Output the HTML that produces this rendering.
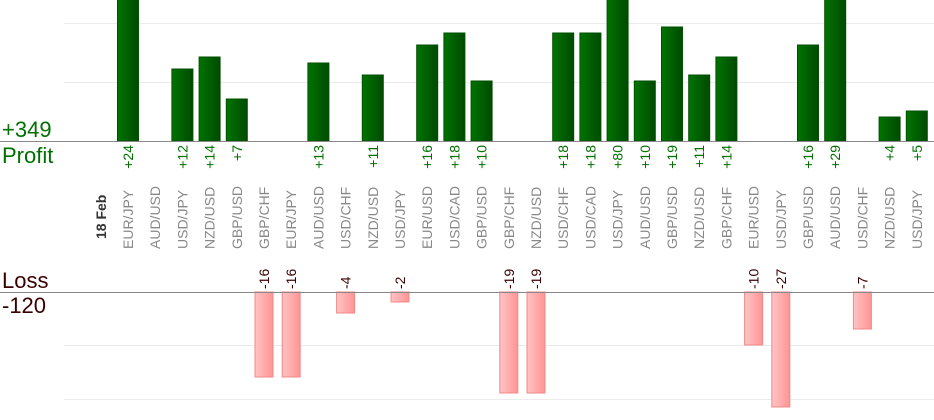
<!DOCTYPE html>
<html><head><meta charset="utf-8"><style>
body{margin:0;background:#fff;width:934px;height:420px;overflow:hidden}
svg{display:block;font-family:"Liberation Sans",sans-serif}
.v{fill:#007000;font-size:14px;text-anchor:end}
.p{fill:#888;font-size:14px}
.l{fill:#3a0000;font-size:14px}
.g{fill:url(#gg);stroke:#005000;stroke-width:1}
.r{fill:url(#rg);stroke:#f08888;stroke-width:1}
</style></head><body>
<svg width="934" height="420" viewBox="0 0 934 420">
<defs>
<linearGradient id="gg" x1="0" x2="1" y1="0" y2="0"><stop offset="0" stop-color="#007400"/><stop offset="1" stop-color="#004a00"/></linearGradient>
<linearGradient id="rg" x1="0" x2="1" y1="0" y2="0"><stop offset="0" stop-color="#ffc4c4"/><stop offset="1" stop-color="#ff9494"/></linearGradient>
</defs>
<g stroke="#ececec" stroke-width="1">
<line x1="64" x2="934" y1="23.5" y2="23.5"/><line x1="64" x2="934" y1="82.5" y2="82.5"/>
<line x1="64" x2="934" y1="345.5" y2="345.5"/><line x1="64" x2="934" y1="399.5" y2="399.5"/>
</g>
<g>
<rect class="g" x="117.5" y="-1" width="21" height="142"/>
<rect class="g" x="171.9" y="69" width="21" height="72"/>
<rect class="g" x="199.1" y="57" width="21" height="84"/>
<rect class="g" x="226.3" y="99" width="21" height="42"/>
<rect class="g" x="307.9" y="63" width="21" height="78"/>
<rect class="g" x="362.3" y="75" width="21" height="66"/>
<rect class="g" x="416.7" y="45" width="21" height="96"/>
<rect class="g" x="443.9" y="33" width="21" height="108"/>
<rect class="g" x="471.1" y="81" width="21" height="60"/>
<rect class="g" x="552.7" y="33" width="21" height="108"/>
<rect class="g" x="579.9" y="33" width="21" height="108"/>
<rect class="g" x="607.1" y="-1" width="21" height="142"/>
<rect class="g" x="634.3" y="81" width="21" height="60"/>
<rect class="g" x="661.5" y="27" width="21" height="114"/>
<rect class="g" x="688.7" y="75" width="21" height="66"/>
<rect class="g" x="715.9" y="57" width="21" height="84"/>
<rect class="g" x="797.5" y="45" width="21" height="96"/>
<rect class="g" x="824.7" y="-1" width="21" height="142"/>
<rect class="g" x="879.1" y="117" width="21" height="24"/>
<rect class="g" x="906.3" y="111" width="21" height="30"/>
</g>
<g>
<rect class="r" x="255" y="292" width="18" height="85"/>
<rect class="r" x="282.2" y="292" width="18" height="85"/>
<rect class="r" x="336.6" y="292" width="18" height="21"/>
<rect class="r" x="391" y="292" width="18" height="10"/>
<rect class="r" x="499.8" y="292" width="18" height="101"/>
<rect class="r" x="527" y="292" width="18" height="101"/>
<rect class="r" x="744.6" y="292" width="18" height="53"/>
<rect class="r" x="771.8" y="292" width="18" height="115"/>
<rect class="r" x="853.4" y="292" width="18" height="37"/>
</g>
<line x1="0" x2="934" y1="141.5" y2="141.5" stroke="#888" stroke-width="1"/>
<line x1="0" x2="934" y1="292.5" y2="292.5" stroke="#888" stroke-width="1"/>
<text x="2" y="137" fill="#007000" font-size="22">+349</text>
<text x="2" y="163" fill="#007000" font-size="22">Profit</text>
<text x="2" y="288" fill="#3a0000" font-size="22">Loss</text>
<text x="2" y="313" fill="#3a0000" font-size="22">-120</text>
<text transform="translate(106,239) rotate(-90)" font-size="14" font-weight="bold" fill="#333">18 Feb</text>
<g class="v">
<text transform="translate(133,145) rotate(-90)">+24</text>
<text transform="translate(187.4,145) rotate(-90)">+12</text>
<text transform="translate(214.6,145) rotate(-90)">+14</text>
<text transform="translate(241.8,145) rotate(-90)">+7</text>
<text transform="translate(323.4,145) rotate(-90)">+13</text>
<text transform="translate(377.8,145) rotate(-90)">+11</text>
<text transform="translate(432.2,145) rotate(-90)">+16</text>
<text transform="translate(459.4,145) rotate(-90)">+18</text>
<text transform="translate(486.6,145) rotate(-90)">+10</text>
<text transform="translate(568.2,145) rotate(-90)">+18</text>
<text transform="translate(595.4,145) rotate(-90)">+18</text>
<text transform="translate(622.6,145) rotate(-90)">+80</text>
<text transform="translate(649.8,145) rotate(-90)">+10</text>
<text transform="translate(677,145) rotate(-90)">+19</text>
<text transform="translate(704.2,145) rotate(-90)">+11</text>
<text transform="translate(731.4,145) rotate(-90)">+14</text>
<text transform="translate(813,145) rotate(-90)">+16</text>
<text transform="translate(840.2,145) rotate(-90)">+29</text>
<text transform="translate(894.6,145) rotate(-90)">+4</text>
<text transform="translate(921.8,145) rotate(-90)">+5</text>
</g>
<g class="l">
<text transform="translate(269,289) rotate(-90)">-16</text>
<text transform="translate(296.2,289) rotate(-90)">-16</text>
<text transform="translate(350.6,289) rotate(-90)">-4</text>
<text transform="translate(405,289) rotate(-90)">-2</text>
<text transform="translate(513.8,289) rotate(-90)">-19</text>
<text transform="translate(541,289) rotate(-90)">-19</text>
<text transform="translate(758.6,289) rotate(-90)">-10</text>
<text transform="translate(785.8,289) rotate(-90)">-27</text>
<text transform="translate(867.4,289) rotate(-90)">-7</text>
</g>
<g class="p">
<text transform="translate(133,249) rotate(-90)">EUR/JPY</text>
<text transform="translate(160.2,249) rotate(-90)">AUD/USD</text>
<text transform="translate(187.4,249) rotate(-90)">USD/JPY</text>
<text transform="translate(214.6,249) rotate(-90)">NZD/USD</text>
<text transform="translate(241.8,249) rotate(-90)">GBP/USD</text>
<text transform="translate(269,249) rotate(-90)">GBP/CHF</text>
<text transform="translate(296.2,249) rotate(-90)">EUR/JPY</text>
<text transform="translate(323.4,249) rotate(-90)">AUD/USD</text>
<text transform="translate(350.6,249) rotate(-90)">USD/CHF</text>
<text transform="translate(377.8,249) rotate(-90)">NZD/USD</text>
<text transform="translate(405,249) rotate(-90)">USD/JPY</text>
<text transform="translate(432.2,249) rotate(-90)">EUR/USD</text>
<text transform="translate(459.4,249) rotate(-90)">USD/CAD</text>
<text transform="translate(486.6,249) rotate(-90)">GBP/USD</text>
<text transform="translate(513.8,249) rotate(-90)">GBP/CHF</text>
<text transform="translate(541,249) rotate(-90)">NZD/USD</text>
<text transform="translate(568.2,249) rotate(-90)">USD/CHF</text>
<text transform="translate(595.4,249) rotate(-90)">USD/CAD</text>
<text transform="translate(622.6,249) rotate(-90)">USD/JPY</text>
<text transform="translate(649.8,249) rotate(-90)">AUD/USD</text>
<text transform="translate(677,249) rotate(-90)">GBP/USD</text>
<text transform="translate(704.2,249) rotate(-90)">NZD/USD</text>
<text transform="translate(731.4,249) rotate(-90)">GBP/CHF</text>
<text transform="translate(758.6,249) rotate(-90)">EUR/USD</text>
<text transform="translate(785.8,249) rotate(-90)">USD/JPY</text>
<text transform="translate(813,249) rotate(-90)">GBP/USD</text>
<text transform="translate(840.2,249) rotate(-90)">AUD/USD</text>
<text transform="translate(867.4,249) rotate(-90)">USD/CHF</text>
<text transform="translate(894.6,249) rotate(-90)">NZD/USD</text>
<text transform="translate(921.8,249) rotate(-90)">USD/JPY</text>
</g>
</svg>
</body></html>
